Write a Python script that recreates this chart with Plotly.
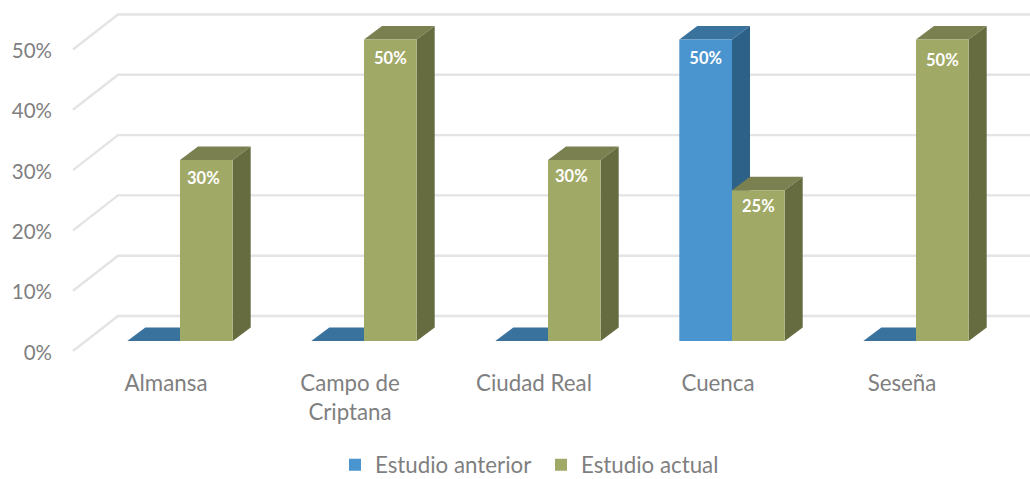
import plotly.graph_objects as go

categories = ["Almansa", "Campo de<br>Criptana", "Ciudad Real", "Cuenca", "Seseña"]
anterior = [0, 0, 0, 50, 0]
actual = [30, 50, 30, 25, 50]
grid_values = [0, 10, 20, 30, 40, 50]

W, H = 1030, 479
ML, MB = 60, 114
PX_CAT = 184.0
PX_PCT = 6.03
X0_PX, Y0_PX = 180.0, 341.0
BAR_W = 52.7 / PX_CAT
DX, DY = 18 / PX_CAT, 13.5 / PX_PCT
WALL_DX, WALL_DY = 45 / PX_CAT, 35 / PX_PCT
FRONT_L = (73 - X0_PX) / PX_CAT
FRONT_OFF = -10.0 / PX_PCT
TICK_OFF = -11.5 / PX_PCT
LABEL_OFF = -17.5 / PX_PCT
TICK_SHIFT = -14 / PX_CAT
XMAX = (W - X0_PX) / PX_CAT

# small pixel nudges of the value labels, one per visible label: (dx, dy)
LABEL_NUDGE = {(0, "b"): (-3, 2), (1, "b"): (0, 3), (2, "b"): (-3, 0),
               (3, "a"): (0, 3), (3, "b"): (0, 0), (4, "b"): (0, 5)}

TXT = "#7F7F7F"
FONT = "Lato"
BLUE, BLUE_TOP, BLUE_SIDE = "#4A94CF", "#3A729E", "#2E6188"
OLIVE, OLIVE_TOP, OLIVE_SIDE = "#A1A966", "#7B8050", "#666C40"


def poly(xs, ys, color):
    path = "M" + "L".join(f"{x},{y}" for x, y in zip(xs, ys)) + "Z"
    return dict(type="path", path=path, xref="x", yref="y", fillcolor=color,
                line=dict(width=0), layer="below")


shapes = []
for g in grid_values:
    y = g + FRONT_OFF
    shapes.append(dict(type="path", xref="x", yref="y", layer="below",
                       path=f"M{FRONT_L},{y}L{FRONT_L + WALL_DX},{y + WALL_DY}L{XMAX},{y + WALL_DY}",
                       line=dict(color="#E4E4E4", width=2.4)))


def box(left, v, top, side):
    right = left + BAR_W
    out = [poly([left, right, right + DX, left + DX], [v, v, v + DY, v + DY], top)]
    if v > 0:
        out.append(poly([right, right + DX, right + DX, right], [0, DY, v + DY, v], side))
    return out


for i, (a, b) in enumerate(zip(anterior, actual)):
    shapes += box(i - BAR_W, a, BLUE_TOP, BLUE_SIDE)
    shapes += box(i, b, OLIVE_TOP, OLIVE_SIDE)

xs = list(range(len(categories)))
fig = go.Figure()
fig.add_bar(x=[i - BAR_W / 2 for i in xs], y=anterior, width=BAR_W, name="Estudio anterior",
            marker=dict(color=BLUE, line=dict(width=0)), hoverinfo="skip")
fig.add_bar(x=[i + BAR_W / 2 for i in xs], y=actual, width=BAR_W, name="Estudio actual",
            marker=dict(color=OLIVE, line=dict(width=0)), hoverinfo="skip")

lx, ly, lt = [], [], []
for i, (a, b) in enumerate(zip(anterior, actual)):
    for key, v, cx in (("a", a, i - BAR_W / 2), ("b", b, i + BAR_W / 2)):
        if v:
            ndx, ndy = LABEL_NUDGE[(i, key)]
            lx.append(cx + ndx / PX_CAT)
            ly.append(v + LABEL_OFF - ndy / PX_PCT)
            lt.append(f"{v}%")
fig.add_scatter(x=lx, y=ly, text=lt, mode="text", showlegend=False, hoverinfo="skip",
                textfont=dict(family=FONT, size=16.5, color="white", weight="bold"))

fig.update_layout(
    width=W, height=H, margin=dict(l=ML, r=0, t=0, b=MB, autoexpand=False),
    paper_bgcolor="white", plot_bgcolor="rgba(0,0,0,0)", barmode="overlay",
    shapes=shapes,
    xaxis=dict(range=[(ML - X0_PX) / PX_CAT, XMAX], showgrid=False, zeroline=False, showline=False,
               tickmode="array", tickvals=[i + TICK_SHIFT for i in xs],
               ticktext=categories, ticklabelstandoff=3,
               tickfont=dict(family=FONT, size=22.3, color=TXT)),
    yaxis=dict(range=[-(H - MB - Y0_PX) / PX_PCT, Y0_PX / PX_PCT], showgrid=False, zeroline=False,
               showline=False, tickmode="array", tickvals=[g + TICK_OFF for g in grid_values],
               ticktext=[f"{g}%" for g in grid_values], ticklabelstandoff=7,
               tickfont=dict(family=FONT, size=20.5, color=TXT)),
    legend=dict(orientation="h", x=0.2835, xanchor="left", y=-0.2158, yanchor="top",
                entrywidth=161, entrywidthmode="pixels",
                font=dict(family=FONT, size=22.3, color=TXT), bgcolor="rgba(0,0,0,0)"),
)
fig.write_html("out.html", config={"displayModeBar": False},
               post_script="document.body.style.margin='0';")
